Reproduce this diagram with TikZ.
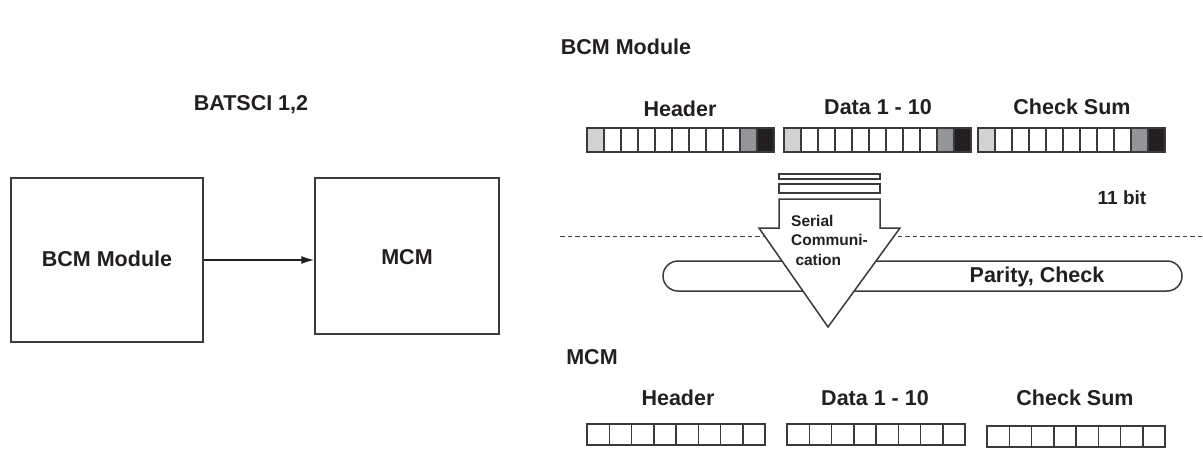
\documentclass[tikz,border=0pt]{standalone}
\usepackage{fontspec}
\setmainfont{Liberation Sans}
\usetikzlibrary{arrows.meta}
\definecolor{cellline}{HTML}{3A3A3A}
\definecolor{lgray}{HTML}{D0D2D3}
\definecolor{mgray}{HTML}{939598}
\definecolor{dblack}{HTML}{231F20}
\begin{document}
\begin{tikzpicture}[x=1pt,y=-1pt,
  lbl/.style={font=\fontsize{21.5}{25}\selectfont\bfseries, text=dblack, inner sep=0pt},
  small/.style={font=\fontsize{15.5}{19.5}\selectfont\bfseries, text=dblack, inner sep=0pt, align=left},
  blockbox/.style={draw=cellline, line width=1.5pt, fill=white, inner sep=0pt},
  cell/.style={draw=cellline, line width=1.5pt}]
\useasboundingbox (0,0) rectangle (1203,448);
% titles
\node[lbl] (title) at (626,47) {BCM Module};
\node[lbl] (batsci) at (251,105) {BATSCI 1,2};
% left block diagram
\node[blockbox, minimum width=192pt, minimum height=164pt] (bcm) at (107,260) {};
\node[lbl] (bcmtxt) at (107,259) {BCM Module};
\node[blockbox, minimum width=184pt, minimum height=156pt] (mcm) at (407,256) {};
\node[lbl] (mcmtxt) at (407,257) {MCM};
\draw[-{Latex[length=13pt,width=8pt]}, line width=1.3pt, dblack] (bcm.east) -- (bcm.east -| mcm.west);
% top strip labels
\node[lbl] (h1) at (680,109) {Header};
\node[lbl] (d1) at (878,107) {Data 1 - 10};
\node[lbl] (c1) at (1072,107) {Check Sum};
% top strips
\foreach \sx in {587,784,978}{
  \foreach \i in {0,...,10}{
    \ifnum\i=0 \def\cf{lgray}\else\ifnum\i=9 \def\cf{mgray}\else\ifnum\i=10 \def\cf{dblack}\else\def\cf{white}\fi\fi\fi
    \draw[cell, fill=\cf] ({\sx+\i*17},128) rectangle ++(17,24);
  }
}
% dashed line
\draw[line width=1pt, dash pattern=on 4.5pt off 3pt, cellline] (560,236) -- (1203,236);
\node[small] (bits) at (1122,198) {\fontsize{19}{22}\selectfont 11 bit};
% parity pill
\draw[cell, rounded corners=15pt] (663,261) rectangle (1182,291);
\node[lbl] (par) at (1037,277) {Parity, Check};
% serial arrow
\draw[cell, fill=white] (779,174) rectangle (880,179);
\draw[cell, fill=white] (779,184) rectangle (880,193);
\draw[cell, fill=white, line join=miter] (779,199) -- (880,199) -- (880,228) -- (900,228) -- (828,327) -- (759,228) -- (779,228) -- cycle;
\node[small, anchor=north west] (serial) at (791,215) {Serial\\Communi-\\\ cation};
% bottom
\node[lbl] (mcm2) at (592,357) {MCM};
\node[lbl] (h2) at (678,398) {Header};
\node[lbl] (d2) at (875,398) {Data 1 - 10};
\node[lbl] (c2) at (1075,398) {Check Sum};
\foreach \sx/\sy in {587/424,787/424,987/426}{
  \foreach \i in {0,...,7}{
    \draw[cell, fill=white] ({\sx+\i*22.25},\sy) rectangle ++(22.25,21);
  }
}
\end{tikzpicture}
\end{document}
